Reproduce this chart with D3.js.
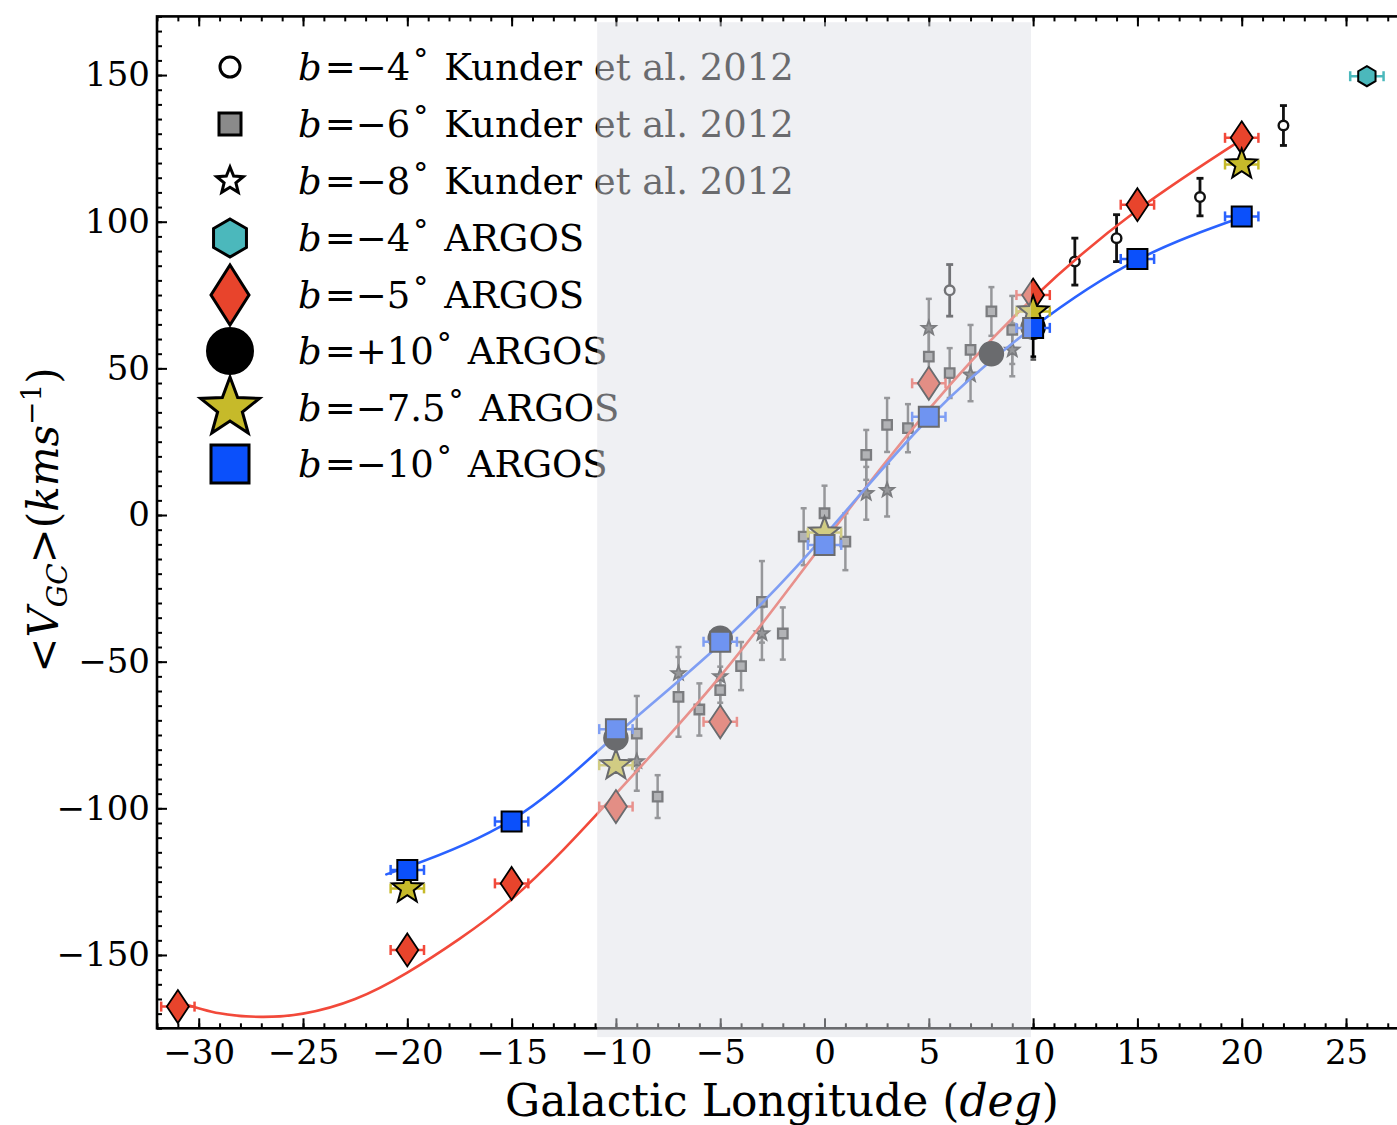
<!DOCTYPE html>
<html><head><meta charset="utf-8">
<script src="https://cdn.jsdelivr.net/npm/d3@7"></script>
<style>
body{margin:0;background:#fff}
svg{display:block}
text{font-family:"DejaVu Serif","Liberation Serif",serif;fill:#000}
</style>
</head><body>
<svg id="c" width="1397" height="1125"></svg>
<script>
// ---------------- data ----------------
const xTicks = [-30,-25,-20,-15,-10,-5,0,5,10,15,20,25];
const yTicks = [-150,-100,-50,0,50,100,150];
const xDomain = [-32, 28];
const yDomain = [-175, 170];
const shadeL = [-10.9, 9.9];
const shadeV = [168, -178];

// Kunder et al. 2012, b = -4 (open circles)
const k4L = [6, 12, 14, 18, 22];
const k4V = [76.6, 86.4, 94.4, 108.4, 132.8];
const k4E = [8.8, 8, 8, 6.4, 6.8];

// Kunder et al. 2012, b = -6 (grey squares)
const k6L = [-9, -8, -7, -6, -5, -4, -3, -2, -1, 0, 1, 2, 3, 4, 5, 6, 7, 8, 9, 10];
const k6V = [-74.5, -96, -62, -66.3, -59.7, -51.5, -29.6, -40.4, -7.4, 0.6, -9.1, 20.5, 30.7, 29.6, 54, 48.4, 56.3, 69.4, 63.1, 62];
const k6E = [12.8, 7.3, 13.6, 8.9, 8, 8.2, 13.9, 8.9, 9.7, 9.4, 9.7, 8.5, 9.2, 8.2, 9, 8.5, 8.5, 8.3, 11.6, 9];

// Kunder et al. 2012, b = -8 (small stars)
const k8L = [-9, -7, -5, -3, 2, 3, 5, 7, 9];
const k8V = [-84, -54, -55, -40.4, 7.4, 8.5, 63.7, 47.8, 56.3];
const k8E = [10, 9, 9, 9, 9, 9, 10, 9, 9];

// ARGOS
const a4L = [26];            const a4V = [149.6];
const a5L = [-31, -20, -15, -10, -5, 5, 10, 15, 20];
const a5V = [-167.6, -148.3, -125.6, -99.4, -70.5, 44.9, 75, 105.8, 128.6];
const a10pL = [-10, -5, 8, 10];
const a10pV = [-76, -42, 55, 64];
const a10pE = [3, 3, 3, 10];
const a75L = [-20, -10, 0, 10, 20];
const a75V = [-127.3, -85.3, -6, 69.4, 119.5];
const a10L = [-20, -15, -10, -5, 0, 5, 10, 15, 20];
const a10V = [-121, -104.5, -73, -43.2, -10.2, 33.5, 63.8, 87.3, 101.8];
const lErr = 0.8;

// fitted curves
const fit5L = [-31, -29, -27, -25, -22.5, -20, -17.5, -15, -12.5, -10, -5, 0, 5, 10, 15, 20];
const fit5V = [-166, -169.9, -171.1, -170, -165, -156, -144.5, -131, -114, -95, -55, -9, 36, 74, 104, 128];
const fit10L = [-21, -20, -15, -10, -5, 0, 5, 10, 15, 20];
const fit10V = [-122.5, -120, -104, -75, -44, -7, 33, 64, 87, 101.5];

// legend
const legB = ["−4", "−6", "−8", "−4", "−5", "+10", "−7.5", "−10"];
const legSrc = ["Kunder et al. 2012","Kunder et al. 2012","Kunder et al. 2012","ARGOS","ARGOS","ARGOS","ARGOS","ARGOS"];

// ---------------- drawing ----------------
const C = {red:"#e8442c", redLine:"#f2493a", blue:"#0b50fb", blueLine:"#2a62ff",
           yellow:"#c6ba2a", cyan:"#4bb8bc", grey:"#8a8a8a"};
const svg = d3.select("#c");
const L = 157, T = 16.4, B = 1028.3;
const x = d3.scaleLinear().domain(xDomain).range([L, L + 20.86*(xDomain[1]-xDomain[0])]);
const y = d3.scaleLinear().domain(yDomain).range([B, T]);
const R = x.range()[1];

const diamond = (w,h)=>`M0,${-h/2}L${w/2},0L0,${h/2}L${-w/2},0Z`;
const square = s=>`M${-s/2},${-s/2}h${s}v${s}h${-s}Z`;
const circle = r=>`M${-r},0a${r},${r} 0 1,0 ${2*r},0a${r},${r} 0 1,0 ${-2*r},0Z`;
const hexagon = r=>{let p=[];for(let i=0;i<6;i++){const a=-Math.PI/2+i*Math.PI/3;p.push([r*Math.cos(a),r*Math.sin(a)]);}return "M"+p.map(d=>d.join(",")).join("L")+"Z";};
const star = (ro,ri=ro*0.42)=>{let p=[];for(let i=0;i<10;i++){const r=i%2?ri:ro;const a=-Math.PI/2+i*Math.PI/5;p.push([r*Math.cos(a),r*Math.sin(a)]);}return "M"+p.map(d=>d.map(v=>v.toFixed(2)).join(",")).join("L")+"Z";};

const gData = svg.append("g");

function vErr(ls, vs, es, color, cap, sw){
  const g = gData.append("g").attr("stroke", color).attr("stroke-width", sw).attr("fill","none");
  ls.forEach((l,i)=>{
    const X=x(l), y1=y(vs[i]-es[i]), y2=y(vs[i]+es[i]);
    g.append("line").attr("x1",X).attr("x2",X).attr("y1",y1).attr("y2",y2);
    g.append("line").attr("x1",X-cap).attr("x2",X+cap).attr("y1",y1).attr("y2",y1);
    g.append("line").attr("x1",X-cap).attr("x2",X+cap).attr("y1",y2).attr("y2",y2);
  });
}
function hErr(ls, vs, color){
  const g = gData.append("g").attr("stroke", color).attr("stroke-width", 2.5).attr("fill","none");
  ls.forEach((l,i)=>{
    const Y=y(vs[i]), x1=x(l-lErr), x2=x(l+lErr);
    g.append("line").attr("x1",x1).attr("x2",x2).attr("y1",Y).attr("y2",Y);
    g.append("line").attr("x1",x1).attr("x2",x1).attr("y1",Y-5).attr("y2",Y+5);
    g.append("line").attr("x1",x2).attr("x2",x2).attr("y1",Y-5).attr("y2",Y+5);
  });
}
function marks(ls, vs, path, fill, stroke, sw){
  gData.append("g").selectAll("path").data(ls).join("path")
    .attr("transform",(d,i)=>`translate(${x(d)},${y(vs[i])})`)
    .attr("d", path).attr("fill", fill).attr("stroke", stroke).attr("stroke-width", sw)
    .attr("stroke-linejoin","miter");
}

// Kunder
vErr(k6L, k6V, k6E, "#555", 3, 2.5);
vErr(k8L, k8V, k8E, "#555", 3, 2.5);
marks(k6L, k6V, square(9.5), C.grey, "#222", 2.3);
marks(k8L, k8V, star(7.5), "#555", "#222", 1.8);
vErr(k4L, k4V, k4E, "#111", 3.5, 2.8);
marks(k4L, k4V, circle(4.8), "#fff", "#111", 2.4);

// fit lines
const line = d3.line().x(d=>x(d[0])).y(d=>y(d[1])).curve(d3.curveNatural);
gData.append("path").attr("d", line(fit5L.map((l,i)=>[l, fit5V[i]])))
  .attr("fill","none").attr("stroke",C.redLine).attr("stroke-width",2.6);
gData.append("path").attr("d", line(fit10L.map((l,i)=>[l, fit10V[i]])))
  .attr("fill","none").attr("stroke",C.blueLine).attr("stroke-width",2.6);

// ARGOS
vErr(a10pL, a10pV, a10pE, "#000", 3, 2.5);
marks(a10pL, a10pV, circle(12), "#000", "#000", 1.5);
hErr(a5L, a5V, C.redLine);
marks(a5L, a5V, diamond(22,33), C.red, "#000", 1.8);
hErr(a75L, a75V, C.yellow);
marks(a75L, a75V, star(16), C.yellow, "#000", 2);
hErr(a10L, a10V, C.blueLine);
marks(a10L, a10V, square(20), C.blue, "#000", 2);
hErr(a4L, a4V, C.cyan);
marks(a4L, a4V, hexagon(10), C.cyan, "#000", 2);

// legend
const legY = [67, 124, 181, 238, 295, 351, 408, 464];
const legMarks = [
  {d:circle(10), f:"#fff", sw:3},
  {d:square(22), f:C.grey, sw:3},
  {d:star(14,6.2), f:"#fff", sw:3},
  {d:hexagon(19), f:C.cyan, sw:3},
  {d:diamond(38,60), f:C.red, sw:3},
  {d:circle(23), f:"#000", sw:2},
  {d:star(31,13), f:C.yellow, sw:3},
  {d:square(38), f:C.blue, sw:3}
];
const gl = svg.append("g");
legY.forEach((yy,i)=>{
  gl.append("path").attr("transform",`translate(230,${yy})`).attr("d",legMarks[i].d)
    .attr("fill",legMarks[i].f).attr("stroke","#000").attr("stroke-width",legMarks[i].sw);
  const t = gl.append("text").attr("x",298).attr("y",yy+13).attr("font-size",37);
  t.append("tspan").attr("font-style","italic").text("b");
  t.append("tspan").attr("dx",3).text("=");
  t.append("tspan").text(legB[i]);
  t.append("tspan").attr("font-size",30).attr("dy",-10).attr("dx",3).text("°");
  t.append("tspan").attr("dy",10).attr("dx",16).text(legSrc[i]);
});

// axes
const gAx = svg.append("g");
function axis(gen, tr, vals, size, fmt){
  const g = gAx.append("g").attr("transform", tr).call(gen.tickValues(vals).tickSize(size).tickSizeOuter(0).tickFormat(fmt));
  g.select(".domain").remove();
  g.selectAll(".tick line").attr("stroke","#000").attr("stroke-width",2);
  return g;
}
const xMinor = d3.range(-32, 29, 1);
const yMinor = d3.range(-175, 171, 5);
const fmt = d=> (d<0?"−":"")+Math.abs(d);
axis(d3.axisBottom(x), `translate(0,${B})`, xMinor, -5, "");
axis(d3.axisTop(x), `translate(0,${T})`, xMinor, -5, "");
axis(d3.axisLeft(y), `translate(${L},0)`, yMinor, -5, "");
const gxb = axis(d3.axisBottom(x), `translate(0,${B})`, xTicks, -10, fmt);
axis(d3.axisTop(x), `translate(0,${T})`, xTicks, -10, "");
const gyl = axis(d3.axisLeft(y), `translate(${L},0)`, yTicks, -10, fmt);
gxb.selectAll(".tick text").attr("font-size",34).attr("font-family","DejaVu Serif")
  .attr("y", 12).attr("dy","0.71em").attr("fill","#222");
gyl.selectAll(".tick text").attr("font-size",34).attr("font-family","DejaVu Serif").attr("fill","#222")
  .attr("x", -7);
gAx.append("rect").attr("x",L).attr("y",T).attr("width",R-L).attr("height",B-T)
  .attr("fill","none").attr("stroke","#000").attr("stroke-width",2.6);

// shaded overlay (semi-transparent, on top)
svg.append("rect").attr("x",x(shadeL[0])).attr("width",x(shadeL[1])-x(shadeL[0]))
  .attr("y",y(shadeV[0])).attr("height",y(shadeV[1])-y(shadeV[0]))
  .attr("fill","rgb(222,224,229)").attr("fill-opacity",0.48);

// axis labels
const xl = svg.append("text").attr("x",782).attr("y",1116).attr("text-anchor","middle").attr("font-size",44);
xl.append("tspan").text("Galactic Longitude ");
xl.append("tspan").text("(");
xl.append("tspan").attr("font-style","italic").text("deg");
xl.append("tspan").text(")");

const yl = svg.append("text").attr("transform","translate(58,520) rotate(-90)").attr("text-anchor","middle").attr("font-size",42);
yl.append("tspan").text("<");
yl.append("tspan").attr("font-style","italic").text("V");
yl.append("tspan").attr("font-style","italic").attr("font-size",28).attr("dy",9).text("GC");
yl.append("tspan").attr("dy",-9).text(">(");
yl.append("tspan").attr("font-style","italic").text("kms");
yl.append("tspan").attr("font-size",28).attr("dy",-17).text("−1");
yl.append("tspan").attr("dy",17).text(")");
</script>
</body></html>
